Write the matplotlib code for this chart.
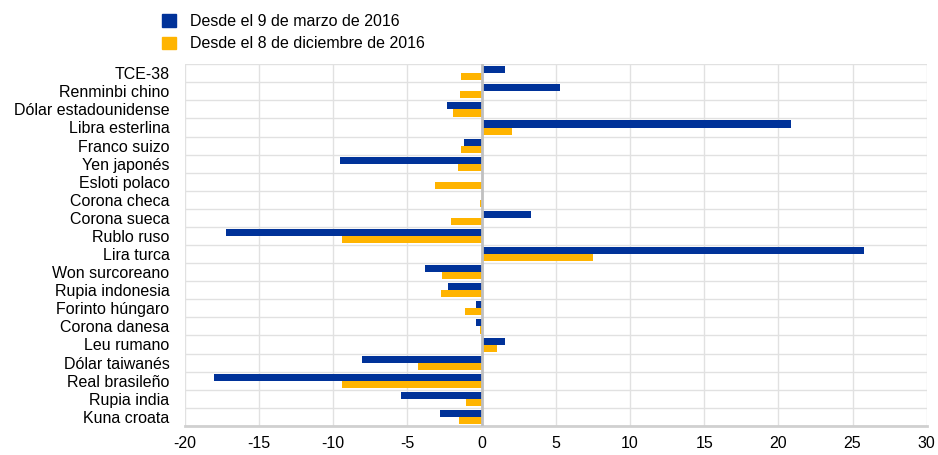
import numpy as np
import matplotlib
matplotlib.use('Agg')
from matplotlib import pyplot as plt
from matplotlib.patches import Patch

plt.rcParams['font.family'] = ['Liberation Sans', 'DejaVu Sans']
plt.rcParams['axes.unicode_minus'] = False

currencies = ['TCE-38', 'Renminbi chino', 'Dólar estadounidense', 'Libra esterlina',
              'Franco suizo', 'Yen japonés', 'Esloti polaco', 'Corona checa',
              'Corona sueca', 'Rublo ruso', 'Lira turca', 'Won surcoreano',
              'Rupia indonesia', 'Forinto húngaro', 'Corona danesa', 'Leu rumano',
              'Dólar taiwanés', 'Real brasileño', 'Rupia india', 'Kuna croata']
since_march = [1.6, 5.3, -2.35, 20.85, -1.2, -9.55, 0.0, 0.0,
               3.3, -17.25, 25.8, -3.8, -2.25, -0.4, -0.4, 1.55,
               -8.05, -18.0, -5.45, -2.8]
since_december = [-1.4, -1.45, -1.95, 2.05, -1.4, -1.6, -3.15, -0.08,
                  -2.05, -9.4, 7.5, -2.7, -2.75, -1.15, -0.08, 1.05,
                  -4.3, -9.4, -1.05, -1.5]
labels = ['Desde el 9 de marzo de 2016', 'Desde el 8 de diciembre de 2016']
colours = ['#003299', '#FFB400']

fig = plt.figure(figsize=(9.38, 4.55), dpi=100)
ax = fig.add_axes([0.197, 0.064, 0.791, 0.795])

y = np.arange(len(currencies))
ax.barh(y - 0.19, since_march, height=0.39, color=colours[0], zorder=3)
ax.barh(y + 0.2, since_december, height=0.39, color=colours[1], zorder=3)

ax.set_xlim(-20, 30)
ax.set_ylim(len(currencies) - 0.5, -0.5)
ax.set_xticks(np.arange(-20, 31, 5))
ax.set_yticks(y)
ax.set_yticklabels(currencies)
ax.set_yticks(np.arange(-0.5, len(currencies), 1), minor=True)
ax.tick_params(axis='both', which='both', length=0, labelsize=11.5, colors='#000000')
ax.tick_params(axis='x', pad=7)
ax.tick_params(axis='y', pad=11)
ax.grid(True, axis='x', which='major', color='#e1e1e1', linewidth=1, zorder=0)
ax.grid(True, axis='y', which='minor', color='#e1e1e1', linewidth=1, zorder=0)
ax.axvline(0, color='#c0c0c0', linewidth=2, zorder=4)
for s in ['top', 'right', 'left']:
    ax.spines[s].set_visible(False)
ax.spines['bottom'].set_color('#d0d0d0')
ax.spines['bottom'].set_linewidth(2)

handles = [Patch(color=colours[0]), Patch(color=colours[1])]
fig.legend(handles, labels, loc='upper left', bbox_to_anchor=(0.163, 0.99),
           frameon=False, fontsize=11.5, handlelength=0.85, handleheight=0.8,
           handletextpad=0.85, labelspacing=0.45, borderpad=0.3, borderaxespad=0.3)

plt.savefig('out.png', dpi=100)
